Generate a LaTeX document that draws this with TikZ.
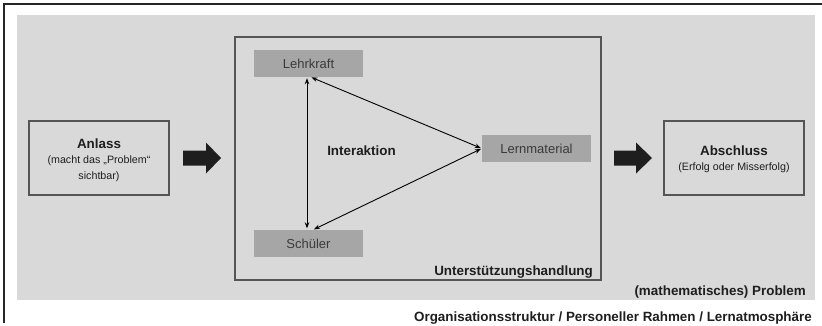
\documentclass[tikz,border=0pt]{standalone}
\usepackage{fontspec}
\setmainfont{Liberation Sans}
\usetikzlibrary{arrows.meta}
\definecolor{bgarea}{HTML}{D9D9D9}
\definecolor{nodefill}{HTML}{A6A6A6}
\definecolor{boxline}{HTML}{555555}
\definecolor{txtdark}{HTML}{1E1E1E}
\definecolor{txtnode}{HTML}{3A3A3A}
\tikzset{
  framebox/.style={draw=boxline, line width=1.3pt, inner sep=0pt},
  graybox/.style={fill=nodefill, draw=none, minimum width=109pt, minimum height=27pt, inner sep=0pt, text=txtnode, font=\fontsize{13}{15}\selectfont},
  bigtxt/.style={font=\bfseries\fontsize{13.4}{16}\selectfont, text=txtdark, inner sep=0pt},
  link/.style={draw=black, line width=0.9pt, {Stealth[length=6pt,width=4.5pt]}-{Stealth[length=6pt,width=4.5pt]}},
  bigarrow/.style={fill=txtdark, draw=none}
}
\begin{document}
\begin{tikzpicture}[x=1pt,y=-1pt]
\useasboundingbox (0,0) rectangle (822,325);
\fill[white] (0,0) rectangle (822,325);
% outer frame (top and left)
\draw[line width=2pt, black!85] (4,323) -- (4,4) -- (822,4);
% gray area
\node[fill=bgarea, draw=none, minimum width=798pt, minimum height=285pt, inner sep=0pt] (area) at (416,157.5) {};
% Anlass box
\node[framebox, minimum width=140pt, minimum height=74pt] (anlass) at (99,158) {};
\node[align=center, text=txtdark, inner sep=0pt, font=\fontsize{10.7}{15.5}\selectfont] (anlasstxt) at (99,160)
  {{\bfseries\fontsize{13.4}{15.5}\selectfont Anlass}\\(macht das „Problem“\\[0.5pt]sichtbar)};
% Abschluss box
\node[framebox, minimum width=140pt, minimum height=74pt] (abschluss) at (734,158) {};
\node[align=center, text=txtdark, inner sep=0pt, font=\fontsize{10.7}{14.5}\selectfont] (abschlusstxt) at (734,159)
  {{\bfseries\fontsize{13.4}{14.5}\selectfont Abschluss}\\(Erfolg oder Misserfolg)};
% inner box
\node[framebox, minimum width=366pt, minimum height=243pt] (inner) at (418,158.5) {};
% gray nodes
\node[graybox] (lehr) at (308.5,63.5) {Lehrkraft};
\node[graybox] (schueler) at (308.5,243.5) {Schüler};
\node[graybox] (lern) at (536.5,148.5) {Lernmaterial};
% Interaktion
\node[bigtxt] (inter) at (361.5,151) {Interaktion};
% connectors
\draw[link, shorten <=1pt, shorten >=1.5pt] ([xshift=-1.5pt]lehr.south) -- ([xshift=-1.5pt]schueler.north);
\draw[link, shorten <=0.5pt, shorten >=1pt] ([xshift=2.5pt]lehr.south) -- (lern.west);
\draw[link, shorten <=1pt, shorten >=1pt] ([xshift=4.5pt]schueler.north) -- (lern.west);
% big arrows
\coordinate (a1) at (183,158);
\coordinate (a2) at (614,158);
\fill[bigarrow] (a1) ++(0,-7.5) -- ++(23,0) -- ++(0,-8) -- ++(15,15.5) -- ++(-15,15.5) -- ++(0,-8) -- ++(-23,0) -- cycle;
\fill[bigarrow] (a2) ++(0,-7.5) -- ++(22,0) -- ++(0,-8) -- ++(16,15.5) -- ++(-16,15.5) -- ++(0,-8) -- ++(-22,0) -- cycle;
% labels
\node[bigtxt, anchor=base east] (unter) at (593,275) {Unterstützungshandlung};
\node[bigtxt, anchor=base east] (problem) at (806,295) {(mathematisches) Problem};
\node[bigtxt, anchor=base east] (orga) at (812,321) {Organisationsstruktur / Personeller Rahmen / Lernatmosphäre};
\end{tikzpicture}
\end{document}
